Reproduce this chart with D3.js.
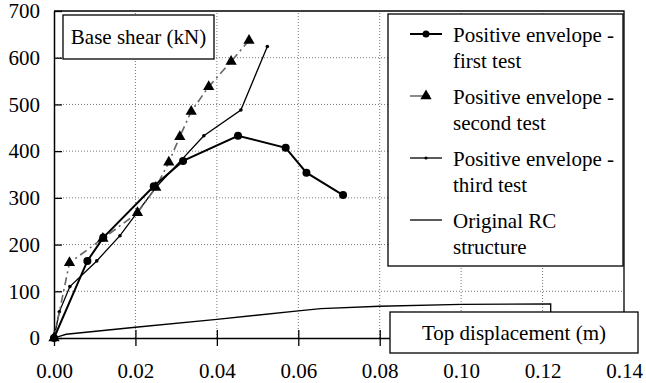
<!DOCTYPE html>
<html>
<head>
<meta charset="utf-8">
<script src="https://cdn.jsdelivr.net/npm/d3@7"></script>
<style>
  body { margin: 0; background: #fff; }
  svg text { font-family: "Liberation Serif", "Times New Roman", "DejaVu Serif", serif; }
</style>
</head>
<body>
<svg id="chart" width="646" height="383"></svg>
<script>
// Pushover envelopes: base shear vs top displacement

// data (displacement m, base shear kN)
const firstX  = [0, 0.0082, 0.0121, 0.0245, 0.0317, 0.0452, 0.0569, 0.0620, 0.0710];
const firstY  = [0, 165, 215, 325, 379, 433, 407, 354, 306];

const secondX = [0, 0.0038, 0.0120, 0.0205, 0.0250, 0.0282, 0.0309, 0.0337, 0.0380, 0.0435, 0.0479];
const secondY = [0, 161, 213, 268, 322, 376, 431, 485, 538, 592, 637];

const thirdX  = [0, 0.0013, 0.0039, 0.0105, 0.0162, 0.0250, 0.0368, 0.0459, 0.0524];
const thirdY  = [0, 56, 110, 165, 219, 322, 433, 488, 624];

const rcX     = [0, 0.003, 0.02, 0.04, 0.06, 0.0655, 0.08, 0.10, 0.122, 0.122];
const rcY     = [0, 8, 23, 40, 58, 63, 68, 72, 73, 0];

const xTicks  = [0, 0.02, 0.04, 0.06, 0.08, 0.10, 0.12, 0.14];
const yTicks  = [0, 100, 200, 300, 400, 500, 600, 700];

const legendLabels = [
  ["Positive envelope -", "first test"],
  ["Positive envelope -", "second test"],
  ["Positive envelope -", "third test"],
  ["Original RC", "structure"]
];

const zip = (xs, ys) => xs.map((x, i) => [x, ys[i]]);

const svg = d3.select("#chart");
const FONT = 21;
const FAMILY = '"Liberation Serif", "Times New Roman", "DejaVu Serif", serif';

// 1. scales
const x = d3.scaleLinear().domain([0, 0.14]).range([54, 624]);
const y = d3.scaleLinear().domain([0, 700]).range([338, 11]);

// 2. dotted grid
const grid = svg.append("g");
grid.selectAll(".vg")
  .data(xTicks.slice(1, -1))
  .enter().append("line")
  .attr("x1", d => x(d)).attr("x2", d => x(d))
  .attr("y1", y(0)).attr("y2", y(700))
  .attr("stroke", "#777").attr("stroke-width", 1)
  .attr("stroke-dasharray", "1,2");
grid.selectAll(".hg")
  .data(yTicks.slice(1, -1))
  .enter().append("line")
  .attr("x1", x(0)).attr("x2", x(0.14))
  .attr("y1", d => y(d)).attr("y2", d => y(d))
  .attr("stroke", "#777").attr("stroke-width", 1)
  .attr("stroke-dasharray", "1,2");

// 3. frame (top + right)
svg.append("path")
  .attr("d", `M${x(0)},${y(700)}H${x(0.14)}V${y(0)}`)
  .attr("fill", "none").attr("stroke", "#000").attr("stroke-width", 1.3);

// 4. axes with crossing ticks
const xAxis = svg.append("g")
  .attr("transform", `translate(0,${y(0)})`)
  .call(d3.axisBottom(x).tickValues(xTicks).tickFormat(d3.format(".2f"))
    .tickSizeInner(8).tickSizeOuter(0));
xAxis.select(".domain").attr("stroke-width", 1.5);
xAxis.selectAll(".tick line").attr("y1", -8).attr("stroke-width", 1.3);
xAxis.selectAll("text").attr("y", 40).attr("dy", 0)
  .style("font-size", FONT + "px").style("font-family", FAMILY).attr("fill", "#000");

const yAxis = svg.append("g")
  .attr("transform", `translate(${x(0)},0)`)
  .call(d3.axisLeft(y).tickValues(yTicks).tickSizeInner(8).tickSizeOuter(0).tickPadding(6));
yAxis.select(".domain").attr("stroke-width", 1.5);
yAxis.selectAll(".tick line").attr("x2", 8).attr("stroke-width", 1.3);
yAxis.selectAll("text").attr("x", -14)
  .style("font-size", FONT + "px").style("font-family", FAMILY).attr("fill", "#000");

// 5. curves
const line = d3.line().x(d => x(d[0])).y(d => y(d[1]));

svg.append("path").datum(zip(rcX, rcY))
  .attr("d", line).attr("fill", "none").attr("stroke", "#000").attr("stroke-width", 1.3);

svg.append("path").datum(zip(thirdX, thirdY))
  .attr("d", line).attr("fill", "none").attr("stroke", "#000").attr("stroke-width", 1.3);
svg.selectAll(".p3").data(zip(thirdX, thirdY)).enter().append("circle")
  .attr("cx", d => x(d[0])).attr("cy", d => y(d[1])).attr("r", 1.8).attr("fill", "#000");

svg.append("path").datum(zip(secondX, secondY))
  .attr("d", line).attr("fill", "none").attr("stroke", "#666").attr("stroke-width", 1.6)
  .attr("stroke-dasharray", "8,4,2,4");
const tri = d3.symbol().type(d3.symbolTriangle).size(55);
svg.selectAll(".p2").data(zip(secondX, secondY)).enter().append("path")
  .attr("d", tri)
  .attr("transform", d => `translate(${x(d[0])},${y(d[1])})`)
  .attr("fill", "#000");

svg.append("path").datum(zip(firstX, firstY))
  .attr("d", line).attr("fill", "none").attr("stroke", "#000").attr("stroke-width", 2);
svg.selectAll(".p1").data(zip(firstX, firstY)).enter().append("circle")
  .attr("cx", d => x(d[0])).attr("cy", d => y(d[1])).attr("r", 4).attr("fill", "#000");

// 6. legend
const lg = svg.append("g");
lg.append("rect").attr("x", 388).attr("y", 14).attr("width", 235).attr("height", 252)
  .attr("fill", "#fff").attr("stroke", "#000").attr("stroke-width", 1.3);

legendLabels.forEach((lines, i) => {
  const base = 42 + i * 62;
  const sy = base - 8;
  const l = lg.append("line").attr("x1", 410).attr("x2", 442).attr("y1", sy).attr("y2", sy)
    .attr("stroke", "#000").attr("stroke-width", 1.3);
  if (i === 0) {
    l.attr("stroke-width", 2);
    lg.append("circle").attr("cx", 426).attr("cy", sy).attr("r", 3.5).attr("fill", "#000");
  } else if (i === 1) {
    l.attr("stroke", "#666").attr("stroke-width", 1.6).attr("stroke-dasharray", "14,4,2,20");
    lg.append("path").attr("d", tri).attr("transform", `translate(426,${sy})`).attr("fill", "#000");
  } else if (i === 2) {
    lg.append("circle").attr("cx", 426).attr("cy", sy).attr("r", 1.6).attr("fill", "#000");
  }
  lines.forEach((t, j) => {
    lg.append("text").attr("x", 453).attr("y", base + j * 26)
      .style("font-size", FONT + "px").style("font-family", FAMILY).text(t);
  });
});

// 7. axis label boxes
svg.append("rect").attr("x", 63).attr("y", 15).attr("width", 151).attr("height", 44)
  .attr("fill", "#fff").attr("stroke", "#000").attr("stroke-width", 1.3);
svg.append("text").attr("x", 138.5).attr("y", 44).attr("text-anchor", "middle")
  .style("font-size", FONT + "px").style("font-family", FAMILY).text("Base shear (kN)");

svg.append("rect").attr("x", 390).attr("y", 312).attr("width", 248).attr("height", 41)
  .attr("fill", "#fff").attr("stroke", "#000").attr("stroke-width", 1.3);
svg.append("text").attr("x", 514).attr("y", 340).attr("text-anchor", "middle")
  .style("font-size", FONT + "px").style("font-family", FAMILY).text("Top displacement (m)");
</script>
</body>
</html>
